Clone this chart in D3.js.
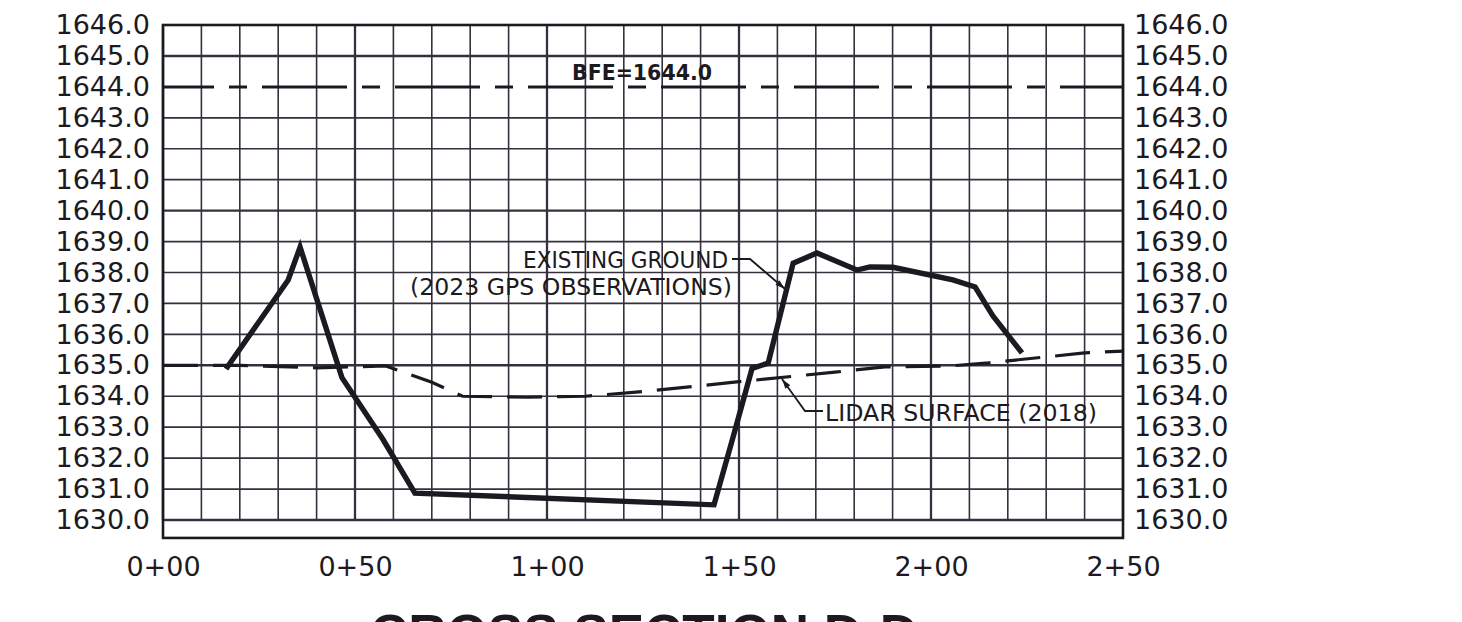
<!DOCTYPE html>
<html lang="en">
<head>
    <meta charset="UTF-8">
    <title>Cross Section D-D</title>
    <style>
        body { margin: 0; background: #ffffff; }
        #chart { width: 1462px; height: 622px; overflow: hidden; }
        text { font-family: "DejaVu Sans", sans-serif; fill: #1c1a20; }
    </style>
</head>
<body>
    <div id="chart"></div>
    <script src="https://d3js.org/d3.v7.min.js"></script>
    <script>
        // Station ticks (ft) and elevation ticks (ft)
        var stationTicks = [0, 50, 100, 150, 200, 250];
        var elevTicks = [1630, 1631, 1632, 1633, 1634, 1635, 1636, 1637, 1638,
                         1639, 1640, 1641, 1642, 1643, 1644, 1645, 1646];
        var bfe = 1644.0;

        // Existing ground (2023 GPS observations): station, elevation
        var groundStation = [16.4, 32.6, 35.7, 46.6, 57.3, 65.6, 143.5, 148.5, 153.4,
                             157.6, 164.1, 170.3, 180.7, 184.1, 190.1, 205.7, 211.5, 216.1, 223.7];
        var groundElev = [1634.88, 1637.76, 1638.82, 1634.6, 1632.6, 1630.87, 1630.49, 1632.7, 1634.9,
                          1635.07, 1638.3, 1638.63, 1638.08, 1638.18, 1638.17, 1637.76, 1637.53, 1636.6, 1635.4];

        // Lidar surface (2018): station, elevation
        var lidarStation = [0, 20, 40, 58, 62, 70, 78, 95, 110, 125, 150, 175, 188, 205, 215, 240, 250];
        var lidarElev = [1635.0, 1635.0, 1634.92, 1634.98, 1634.8, 1634.45, 1634.0, 1633.97, 1634.0,
                         1634.15, 1634.47, 1634.78, 1634.95, 1634.98, 1635.08, 1635.4, 1635.46];

        var width = 1462;
        var height = 622;
        var ink = "#1c1a20";
        var gridInk = "#35303c";

        var svg = d3.select("#chart")
                    .append("svg")
                    .attr("width", width)
                    .attr("height", height);

        var x = d3.scaleLinear().domain([0, 250]).range([163, 1123]);
        var y = d3.scaleLinear().domain([1630, 1646]).range([520, 25]);

        // grid - vertical lines every 10 ft, stop at 1630
        svg.selectAll("line.vgrid")
           .data(d3.range(0, 251, 10))
           .enter()
           .append("line")
           .attr("class", "vgrid")
           .attr("x1", function(d) { return x(d); })
           .attr("x2", function(d) { return x(d); })
           .attr("y1", y(1646))
           .attr("y2", y(1630))
           .style("stroke", gridInk)
           .style("stroke-width", function(d) { return d % 50 === 0 ? 2.3 : 1.6; });

        // grid - horizontal lines every 1 ft (the BFE line takes the place of 1644)
        svg.selectAll("line.hgrid")
           .data(elevTicks.filter(function(d) { return d !== bfe; }))
           .enter()
           .append("line")
           .attr("class", "hgrid")
           .attr("x1", x(0))
           .attr("x2", x(250))
           .attr("y1", function(d) { return y(d); })
           .attr("y2", function(d) { return y(d); })
           .style("stroke", gridInk)
           .style("stroke-width", function(d) { return d % 5 === 0 ? 2.4 : 1.7; });

        // outer frame, extends a little below 1630
        svg.append("rect")
           .attr("x", x(0))
           .attr("y", y(1646))
           .attr("width", x(250) - x(0))
           .attr("height", y(1629.42) - y(1646))
           .style("fill", "none")
           .style("stroke", ink)
           .style("stroke-width", 2.6);

        // elevation labels, both sides
        var fmt = d3.format(".1f");
        var leftAxis = d3.axisLeft(y).tickValues(elevTicks).tickFormat(fmt).tickSize(0).tickPadding(0);
        var rightAxis = d3.axisRight(y).tickValues(elevTicks).tickFormat(fmt).tickSize(0).tickPadding(0);

        svg.append("g")
           .attr("transform", "translate(150,0)")
           .call(leftAxis);
        svg.append("g")
           .attr("transform", "translate(1134,0)")
           .call(rightAxis);

        // station labels
        var stationFmt = function(d) {
            var hundreds = Math.floor(d / 100);
            var rest = d % 100;
            return hundreds + "+" + (rest < 10 ? "0" + rest : rest);
        };
        var bottomAxis = d3.axisBottom(x).tickValues(stationTicks).tickFormat(stationFmt).tickSize(0).tickPadding(0);
        svg.append("g")
           .attr("transform", "translate(0,557)")
           .call(bottomAxis);

        svg.selectAll(".domain").remove();
        svg.selectAll(".tick text")
           .style("font-family", "'DejaVu Sans', sans-serif")
           .style("font-size", "27px")
           .style("fill", ink);

        // BFE line
        svg.append("line")
           .attr("x1", x(0))
           .attr("x2", x(250))
           .attr("y1", y(bfe))
           .attr("y2", y(bfe))
           .style("stroke", ink)
           .style("stroke-width", 3)
           .style("stroke-dasharray", "85,15,18,15")
           .style("stroke-dashoffset", 34);

        svg.append("text")
           .attr("x", 572)
           .attr("y", y(bfe) - 7)
           .attr("textLength", 140)
           .attr("lengthAdjust", "spacingAndGlyphs")
           .style("font-size", "21px")
           .style("font-weight", "bold")
           .text("BFE=1644.0");

        // lidar surface (dashed)
        var lidarPts = lidarStation.map(function(s, i) { return [s, lidarElev[i]]; });
        var groundPts = groundStation.map(function(s, i) { return [s, groundElev[i]]; });

        var line = d3.line()
                     .x(function(d) { return x(d[0]); })
                     .y(function(d) { return y(d[1]); });

        svg.append("path")
           .attr("d", line(lidarPts))
           .style("fill", "none")
           .style("stroke", ink)
           .style("stroke-width", 3.2)
           .style("stroke-dasharray", "35,15");

        // existing ground (heavy solid)
        svg.append("path")
           .attr("d", line(groundPts))
           .style("fill", "none")
           .style("stroke", ink)
           .style("stroke-width", 5.4)
           .style("stroke-linejoin", "miter");

        // arrowhead marker for leaders
        svg.append("defs")
           .append("marker")
           .attr("id", "arrow")
           .attr("viewBox", "0 0 10 6")
           .attr("refX", 10)
           .attr("refY", 3)
           .attr("markerWidth", 14)
           .attr("markerHeight", 6)
           .attr("markerUnits", "userSpaceOnUse")
           .attr("orient", "auto")
           .append("path")
           .attr("d", "M0,0 L10,3 L0,6 Z")
           .style("fill", ink);

        // leaders
        svg.append("path")
           .attr("d", "M732,259 L750,259 L785,289")
           .style("fill", "none")
           .style("stroke", ink)
           .style("stroke-width", 1.8)
           .attr("marker-end", "url(#arrow)");

        svg.append("path")
           .attr("d", "M823,411 L805,411 L782,379")
           .style("fill", "none")
           .style("stroke", ink)
           .style("stroke-width", 1.8)
           .attr("marker-end", "url(#arrow)");

        // annotation labels
        var notes = [
            { t: "EXISTING GROUND", x: 523, y: 268, w: 205 },
            { t: "(2023 GPS OBSERVATIONS)", x: 410, y: 295, w: 322 },
            { t: "LIDAR SURFACE (2018)", x: 825, y: 421, w: 272 }
        ];
        svg.selectAll("text.note")
           .data(notes)
           .enter()
           .append("text")
           .attr("class", "note")
           .attr("x", function(d) { return d.x; })
           .attr("y", function(d) { return d.y; })
           .attr("textLength", function(d) { return d.w; })
           .attr("lengthAdjust", "spacingAndGlyphs")
           .style("font-size", "23px")
           .text(function(d) { return d.t; });

        // title, cut off at bottom edge as in the drawing sheet
        svg.append("text")
           .attr("x", 370)
           .attr("y", 652)
           .attr("textLength", 548)
           .attr("lengthAdjust", "spacingAndGlyphs")
           .style("font-family", "'Liberation Sans', Arial, sans-serif")
           .style("font-weight", "bold")
           .style("font-size", "53px")
           .text("CROSS SECTION D-D");
    </script>
</body>
</html>
